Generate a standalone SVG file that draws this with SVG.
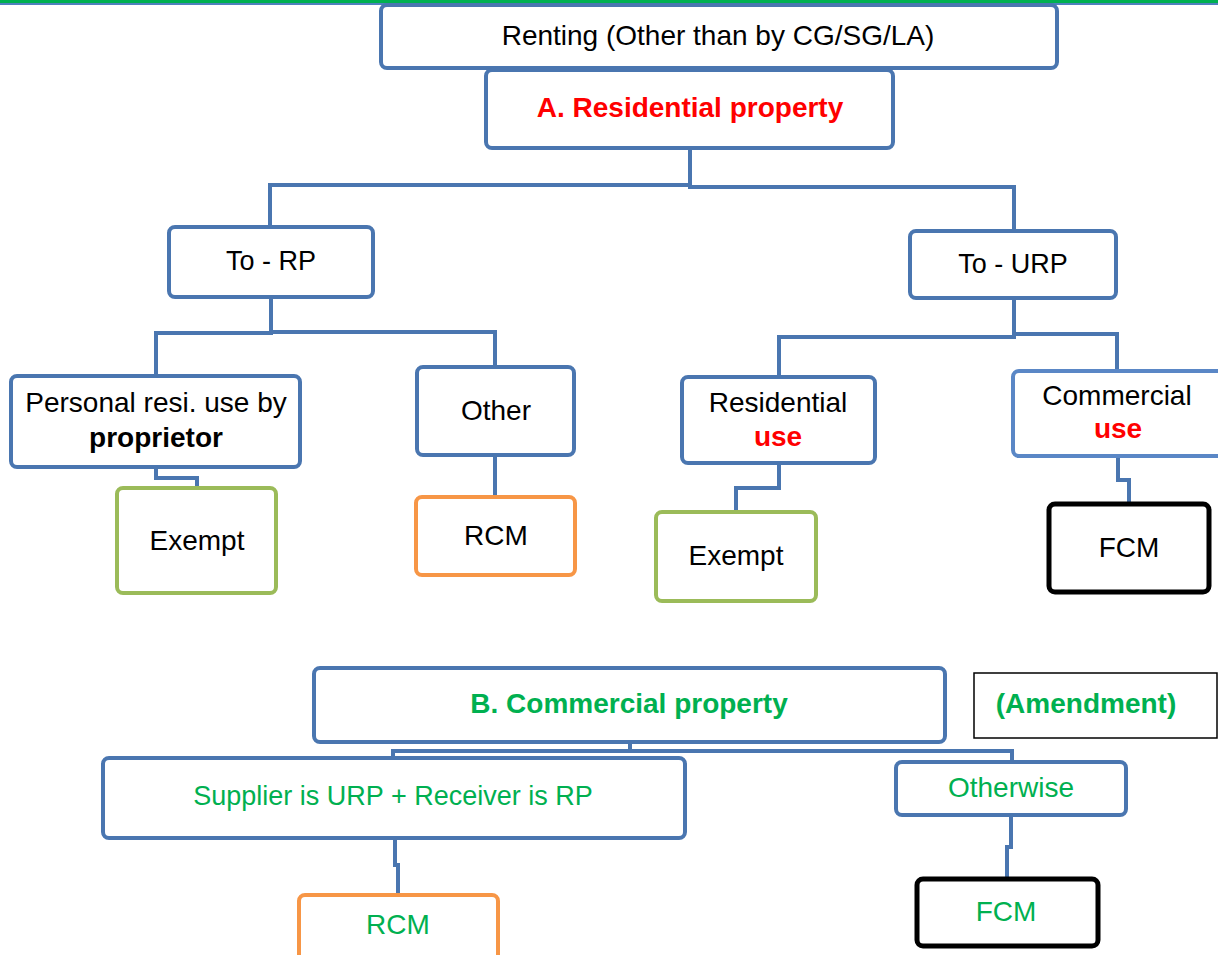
<svg xmlns="http://www.w3.org/2000/svg" width="1218" height="955" viewBox="0 0 1218 955">
<style>
.box{fill:#fff;stroke:#4a76b0;stroke-width:4}
.lbox{fill:#fff;stroke:#5a87c6;stroke-width:4}
.gbox{fill:#fff;stroke:#9bbb59;stroke-width:4}
.obox{fill:#fff;stroke:#f79646;stroke-width:4}
.kbox{fill:#fff;stroke:#000;stroke-width:5}
.conn path{fill:none;stroke:#4a76b0;stroke-width:4;stroke-linejoin:miter}
text{font-family:"Liberation Sans",Arial,sans-serif;font-size:28px;text-anchor:middle;fill:#000}
.b{font-weight:bold}
.red{fill:#ff0000}
.grn{fill:#00b050}
.s27{font-size:27px}
</style>
<rect width="1218" height="955" fill="#fff"/>
<rect x="0" y="0" width="1218" height="3" fill="#00b050"/>
<rect x="0" y="3" width="1218" height="2" fill="#4f81bd"/>
<g class="conn">
<path d="M690,148 V187 H1014 V231"/>
<path d="M690,185 H270 V227"/>
<path d="M271,297 V333 H156 V376"/>
<path d="M271,332 H495 V367"/>
<path d="M156,467 V478 H197 V488"/>
<path d="M495,455 V497"/>
<path d="M1014,298 V337 H779 V377"/>
<path d="M1014,334 H1117 V371"/>
<path d="M779,463 V488 H736 V512"/>
<path d="M1118,456 V480 H1129 V504"/>
<path d="M630,742 V751 H393 V758"/>
<path d="M630,751 H1012 V762"/>
<path d="M395,838 V865 H398 V895"/>
<path d="M1011,815 V847 H1007 V879"/>
</g>
<g id="renting"><rect class="box" x="381" y="5" width="676" height="63" rx="6"/><text x="718" y="45">Renting (Other than by CG/SG/LA)</text></g>
<g id="residential-property"><rect class="box" x="486" y="70" width="407" height="78" rx="6"/><text class="b red" x="690" y="117">A. Residential property</text></g>
<g id="to-rp"><rect class="box" x="169" y="227" width="204" height="70" rx="6"/><text class="s27" x="271" y="270">To - RP</text></g>
<g id="to-urp"><rect class="box" x="910" y="231" width="206" height="67" rx="6"/><text class="s27" x="1013" y="273">To - URP</text></g>
<g id="personal"><rect class="box" x="11" y="376" width="289" height="91" rx="6"/><text x="156" y="412">Personal resi. use by</text><text class="b" x="156" y="447">proprietor</text></g>
<g id="other"><rect class="box" x="417" y="367" width="157" height="88" rx="6"/><text x="496" y="420">Other</text></g>
<g id="exempt-1"><rect class="gbox" x="117" y="488" width="159" height="105" rx="6"/><text x="197" y="550">Exempt</text></g>
<g id="rcm-1"><rect class="obox" x="416" y="497" width="159" height="78" rx="6"/><text x="496" y="545">RCM</text></g>
<g id="residential-use"><rect class="box" x="682" y="377" width="193" height="86" rx="6"/><text x="778" y="412">Residential</text><text class="b red" x="778" y="446">use</text></g>
<g id="commercial-use"><rect class="lbox" x="1013" y="371" width="217" height="85" rx="6"/><text x="1117" y="405">Commercial</text><text class="b red" x="1118" y="438">use</text></g>
<g id="exempt-2"><rect class="gbox" x="656" y="512" width="160" height="89" rx="6"/><text x="736" y="565">Exempt</text></g>
<g id="fcm-1"><rect class="kbox" x="1049" y="504" width="160" height="88" rx="6"/><text x="1129" y="557">FCM</text></g>
<g id="commercial-property"><rect class="box" x="314" y="668" width="631" height="74" rx="6"/><text class="b grn" x="629" y="713">B. Commercial property</text></g>
<g id="amendment"><rect x="974" y="673" width="243" height="65" fill="#fff" stroke="#000" stroke-width="1.5"/><text class="b grn" x="1086" y="713">(Amendment)</text></g>
<g id="supplier"><rect class="box" x="103" y="758" width="582" height="80" rx="6"/><text class="grn s27" x="393" y="805">Supplier is URP + Receiver is RP</text></g>
<g id="otherwise"><rect class="box" x="896" y="762" width="230" height="53" rx="6"/><text class="grn" x="1011" y="797">Otherwise</text></g>
<g id="fcm-2"><rect class="kbox" x="917" y="879" width="181" height="67" rx="6"/><text class="grn" x="1006" y="921">FCM</text></g>
<g id="rcm-2"><rect class="obox" x="299" y="895" width="199" height="70" rx="6"/><text class="grn" x="398" y="934">RCM</text></g>
</svg>
